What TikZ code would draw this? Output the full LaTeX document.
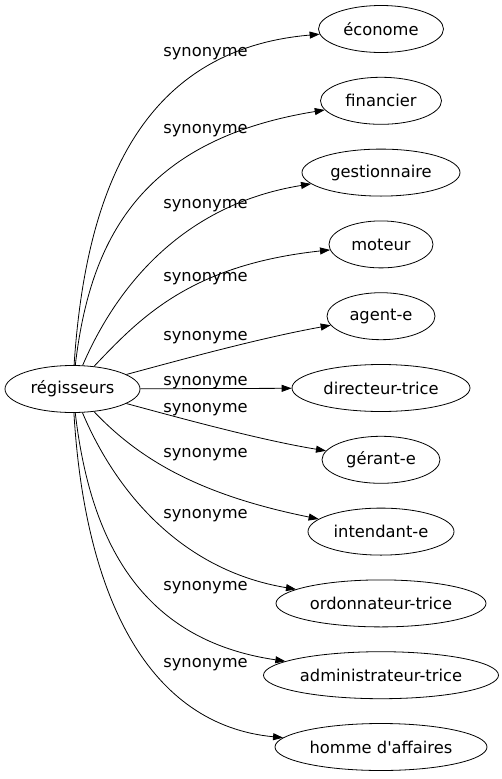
\documentclass[tikz,border=0pt]{standalone}
\usepackage{fontspec}
\setmainfont{DejaVu Sans}
\usetikzlibrary{positioning,shapes.geometric,arrows.meta}

\begin{document}
\begin{tikzpicture}[
        x=1pt, y=1pt,
        node distance=24pt,
        word/.style={
            draw,
            ellipse,
            line width=0.8pt,
            inner sep=0pt,
            minimum height=47pt,
            font=\fontsize{16.3}{19}\selectfont
        },
        lbl/.style={
            anchor=base,
            inner sep=0pt,
            font=\fontsize{16.3}{19}\selectfont
        },
        arrow/.style={-{Triangle[length=10pt,width=7pt]}, line width=0.8pt}
    ]

    \useasboundingbox (0,0) rectangle (502,-779);

    % Source
    \node[word, minimum width=135pt] (reg) at (72.5,-389) {régisseurs};

    % Targets
    \node[word, minimum width=125pt] (econome) at (381,-29) {économe};
    \node[word, minimum width=121pt] (financier) [below=of econome] {financier};
    \node[word, minimum width=158pt] (gestion) [below=of financier] {gestionnaire};
    \node[word, minimum width=104pt] (moteur) [below=of gestion] {moteur};
    \node[word, minimum width=108pt] (agent) [below=of moteur] {agent-e};
    \node[word, minimum width=178pt] (directeur) [below=of agent] {directeur-trice};
    \node[word, minimum width=118pt] (gerant) [below=of directeur] {gérant-e};
    \node[word, minimum width=146pt] (intendant) [below=of gerant] {intendant-e};
    \node[word, minimum width=210pt] (ordonnateur) [below=of intendant] {ordonnateur-trice};
    \node[word, minimum width=235pt] (admin) [below=of ordonnateur] {administrateur-trice};
    \node[word, minimum width=212pt] (homme) [below=of admin] {homme d\textquotesingle affaires};

    % Labels
    \node[lbl] (l-econome) at (205.5,-56) {synonyme};
    \node[lbl] (l-financier) at (205.5,-133) {synonyme};
    \node[lbl] (l-gestion) at (205.5,-208) {synonyme};
    \node[lbl] (l-moteur) at (205.5,-281) {synonyme};
    \node[lbl] (l-agent) at (205.5,-340) {synonyme};
    \node[lbl] (l-directeur) at (205.5,-385) {synonyme};
    \node[lbl] (l-gerant) at (205.5,-412) {synonyme};
    \node[lbl] (l-intendant) at (205.5,-457) {synonyme};
    \node[lbl] (l-ordonnateur) at (205.5,-518) {synonyme};
    \node[lbl] (l-admin) at (205.5,-590) {synonyme};
    \node[lbl] (l-homme) at (205.5,-667) {synonyme};

    % Arrows
    \draw[arrow] (reg) .. controls (85,-200) and (135,-50) .. (econome);
    \draw[arrow] (reg) .. controls (90,-240) and (140,-140) .. (financier);
    \draw[arrow] (reg) .. controls (115,-290) and (180,-205) .. (gestion);
    \draw[arrow] (reg) .. controls (140,-318) and (190,-265) .. (moteur);
    \draw[arrow] (reg) .. controls (180,-360) and (260,-338) .. (agent);
    \draw[arrow] (reg) -- (directeur);
    \draw[arrow] (reg) .. controls (180,-418) and (260,-440) .. (gerant);
    \draw[arrow] (reg) .. controls (140,-460) and (200,-495) .. (intendant);
    \draw[arrow] (reg) .. controls (115,-490) and (180,-570) .. (ordonnateur);
    \draw[arrow] (reg) .. controls (90,-540) and (140,-640) .. (admin);
    \draw[arrow] (reg) .. controls (85,-600) and (150,-725) .. (homme);

\end{tikzpicture}
\end{document}
